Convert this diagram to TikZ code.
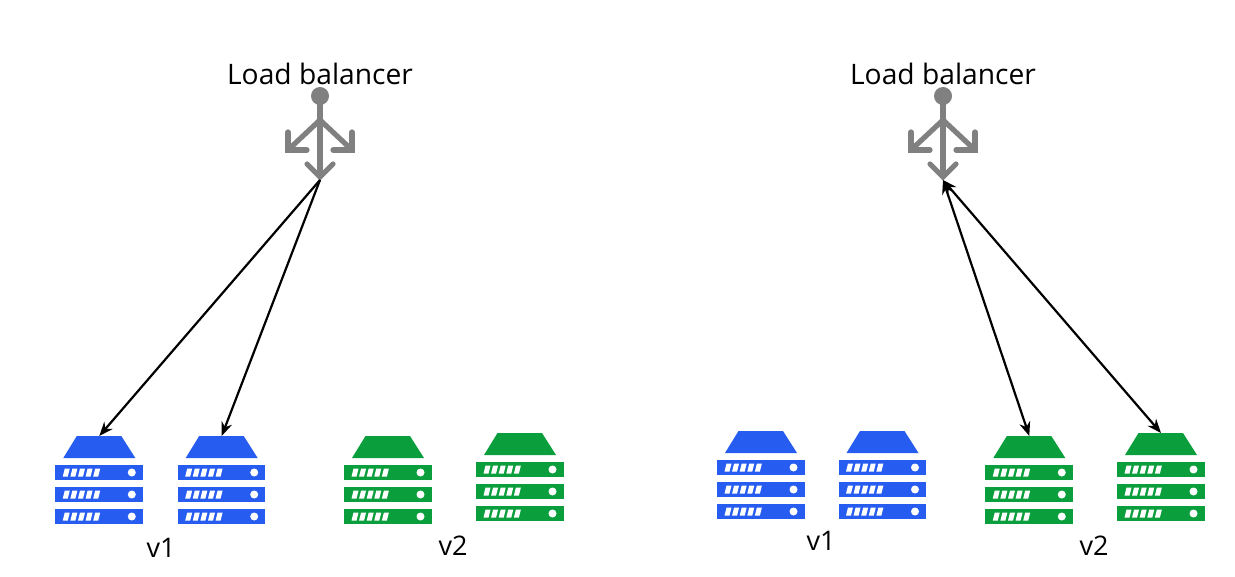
\documentclass[tikz,border=0pt]{standalone}
\usepackage{fontspec}
\setmainfont{Open Sans}
\usetikzlibrary{arrows.meta}
\definecolor{serverblue}{RGB}{38,92,240}
\definecolor{servergreen}{RGB}{11,158,60}
\definecolor{balancergray}{RGB}{128,128,128}
\tikzset{
	link/.style={draw=black, line width=2.2pt, -{Stealth[length=14pt,width=11pt]}},
	linkboth/.style={link, {Stealth[length=14pt,width=11pt]}-{Stealth[length=14pt,width=11pt]}},
	lbtext/.style={font=\fontsize{28.2}{30}\selectfont, text=black},
	vertext/.style={font=\fontsize{27}{28}\selectfont, text=black},
	pics/server/.style={code={
		\coordinate (-top) at (44,0);
		\fill[#1] (21.5,0) -- (66,0) -- (80,22) -- (8,22) -- cycle;
		%racks
		\foreach \b in {29,51,73} {
			\fill[#1] (0,\b) rectangle (87.5,\b+15);
			\foreach \s in {0,...,4}
			\fill[white] (7.5+7.6*\s,\b+11.5) -- (9.5+7.6*\s,\b+3.5) -- (14.5+7.6*\s,\b+3.5) -- (12.5+7.6*\s,\b+11.5) -- cycle;
			\fill[white] (76.5,\b+7.5) circle (4);
		}
	}},
	pics/balancer/.style={code={
		\coordinate (-tip) at (0,84);
		\fill[balancergray] (0,0) circle (9);
		\draw[balancergray, line width=5.2pt] (0,0) -- (0,80);
		\draw[balancergray, line width=5.2pt] (-32,54) -- (0,24) -- (32,54);
		%heads
		\draw[balancergray, line width=5.2pt, line cap=round] (-32,36) -- (-32,54) -- (-13,54);
		\draw[balancergray, line width=5.2pt, line cap=round] (32,36) -- (32,54) -- (13,54);
		\draw[balancergray, line width=5.2pt, line cap=round] (-13,68) -- (0,81) -- (13,68);
	}}
}
\begin{document}
\begin{tikzpicture}[x=1pt, y=-1pt]
	\useasboundingbox (0,0) rectangle (1235,577);
	%left side
	\node[lbtext] (lbtextl) at (320,74) {Load balancer};
	\pic (lbl) at (320,96) {balancer};
	\pic (bluea) at (55.3,436) {server=serverblue};
	\pic (blueb) at (177.7,436) {server=serverblue};
	\pic (greena) at (344,436) {server=servergreen};
	\pic (greenb) at (476,433) {server=servergreen};
	\node[vertext] (vera) at (161,548) {v1};
	\node[vertext] (verb) at (453,546) {v2};
	\draw[link] (lbl-tip) -- (bluea-top);
	\draw[link] (lbl-tip) -- (blueb-top);
	%right side
	\node[lbtext] (lbtextr) at (943,74) {Load balancer};
	\pic (lbr) at (943,96) {balancer};
	\pic (bluec) at (717,431) {server=serverblue};
	\pic (blued) at (838.5,431) {server=serverblue};
	\pic (greenc) at (985.3,436) {server=servergreen};
	\pic (greend) at (1117,433) {server=servergreen};
	\node[vertext] (verc) at (821,541) {v1};
	\node[vertext] (verd) at (1094,546) {v2};
	\draw[linkboth] (lbr-tip) -- (greenc-top);
	\draw[linkboth] (lbr-tip) -- (greend-top);
\end{tikzpicture}
\end{document}
